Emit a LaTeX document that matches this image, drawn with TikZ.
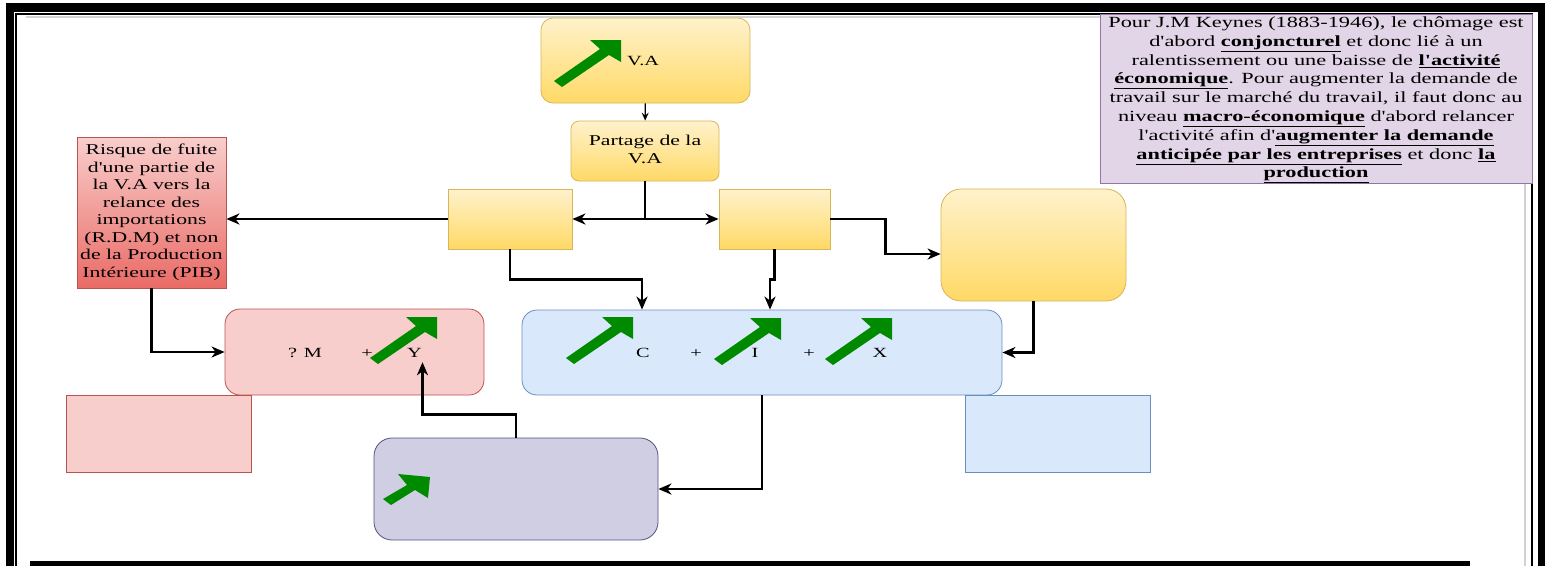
\documentclass[tikz,border=0pt]{standalone}
\usepackage{fontspec}
\setmainfont{Liberation Serif}
\usepackage{graphicx}
\usetikzlibrary{arrows.meta}

\definecolor{jauneH}{HTML}{FFF2CC}
\definecolor{jauneB}{HTML}{FFD966}
\definecolor{jauneT}{HTML}{D6B656}
\definecolor{roseF}{HTML}{F8CECC}
\definecolor{roseT}{HTML}{B85450}
\definecolor{rougeB}{HTML}{EA6B66}
\definecolor{bleuF}{HTML}{DAE8FC}
\definecolor{bleuT}{HTML}{6C8EBF}
\definecolor{violetF}{HTML}{D0CEE2}
\definecolor{violetT}{HTML}{56517E}
\definecolor{mauveF}{HTML}{E1D5E7}
\definecolor{mauveT}{HTML}{9673A6}
\definecolor{vert}{HTML}{008A00}

\newcommand{\etire}[1]{\scalebox{1.45}[1]{\begin{tabular}{@{}c@{}}#1\end{tabular}}}
\newcommand{\gras}[1]{\underline{\textbf{#1}}}
\newcommand{\apo}{\textquotesingle}

\begin{document}
\begin{tikzpicture}[x=1pt,y=-1pt,>={Stealth[length=13pt,width=11pt,inset=4pt]},
  boite/.style={draw,inner sep=0pt,line width=0.8pt},
  jaune/.style={boite,draw=jauneT,top color=jauneH,bottom color=jauneB},
  lien/.style={->,line width=2.6pt},
  mince/.style={-{Stealth[length=8pt,width=7pt,inset=3pt]},line width=1.2pt},
  texte/.style={inner sep=0pt,font=\fontsize{15}{17.5}\selectfont},
  petit/.style={inner sep=0pt,font=\fontsize{14}{16}\selectfont},
  hausse/.pic={\fill[vert] (0,0) -- (-31,0) -- (-21,9) -- (-67,41) -- (-59,47) -- (-12,15) -- (0,22) -- cycle;}]
  \useasboundingbox (0,0) rectangle (1545,566);

  % cadre
  \fill (6,3) rectangle (1545,12);
  \fill (6,3) rectangle (14,566);
  \fill (1538,3) rectangle (1545,566);
  \draw[gray!35,line width=2pt] (26,16.5) -- (1525,16.5) -- (1525,566);
  \draw[line width=1.5pt] (16,566) |- (1532,14) -- (1532,566);
  \fill (30,561) rectangle (1470,566);

  % boites
  \node[jaune,rounded corners=12pt,minimum width=209pt,minimum height=85pt] (va) at (645.5,60.5) {};
  \node[jaune,rounded corners=8pt,minimum width=148pt,minimum height=60pt,texte] (partage) at (645,151) {\etire{Partage de la\\V.A}};
  \node[jaune,minimum width=124pt,minimum height=60pt] (ga) at (510,219) {};
  \node[jaune,minimum width=111pt,minimum height=60pt] (dr) at (774.5,219) {};
  \node[jaune,rounded corners=20pt,minimum width=185pt,minimum height=112pt] (grand) at (1033.5,245) {};
  \node[boite,draw=roseT,top color=roseF,bottom color=rougeB,minimum width=149pt,minimum height=151pt,texte] (fuite) at (151.5,212.5)
    {\etire{Risque de fuite\\d\apo une partie de\\la V.A vers la\\relance des\\importations\\(R.D.M) et non\\de la Production\\Intérieure (PIB)}};
  \node[boite,draw=mauveT,fill=mauveF,minimum width=432pt,minimum height=166pt,inner sep=0pt,font=\fontsize{15.5}{18.8}\selectfont] (keynes) at (1316,99)
    {\scalebox{1.44}[1]{\begin{tabular}{@{}c@{}}Pour J.M Keynes (1883-1946), le chômage est\\
      d\apo abord \gras{conjoncturel} et donc lié à un\\
      ralentissement ou une baisse de \gras{l\apo activité}\\
      \gras{économique}. Pour augmenter la demande de\\
      travail sur le marché du travail, il faut donc au\\
      niveau \gras{macro-économique} d\apo abord relancer\\
      l\apo activité afin d\apo\gras{augmenter la demande}\\
      \gras{anticipée par les entreprises} et donc \gras{la}\\
      \gras{production}\end{tabular}}};
  \node[boite,draw=roseT,fill=roseF,rounded corners=15pt,minimum width=259pt,minimum height=86pt] (rose) at (354.5,352) {};
  \node[boite,draw=bleuT,fill=bleuF,rounded corners=15pt,minimum width=480pt,minimum height=85pt] (bleu) at (762,352.5) {};
  \node[boite,draw=violetT,fill=violetF,rounded corners=18pt,minimum width=284pt,minimum height=102pt] (violet) at (516,489) {};
  \node[boite,draw=roseT,fill=roseF,minimum width=185pt,minimum height=77pt] (rosebas) at (158.5,433.5) {};
  \node[boite,draw=bleuT,fill=bleuF,minimum width=185pt,minimum height=77pt] (bleubas) at (1057.5,433.5) {};

  % termes
  \node[petit,anchor=west] (va-t) at (627,62) {\etire{V.A}};
  \foreach \t/\x [count=\i] in {{? M}/305,+/367,Y/414.5}
    \node[petit] (r\i) at (\x,354) {\etire{\t}};
  \foreach \t/\x [count=\i] in {C/643,+/696,I/755,+/809,X/880}
    \node[petit] (b\i) at (\x,354) {\etire{\t}};

  % fleches vertes
  \pic at (621,40) {hausse};
  \pic at (437,317) {hausse};
  \pic at (633,317) {hausse};
  \pic at (781,318) {hausse};
  \pic at (892,318) {hausse};
  \fill[vert] (430,477) -- (398,474) -- (407,485) -- (383,499) -- (391,505) -- (415,490) -- (428,498) -- cycle;

  % liens
  \draw[mince] (va) -- (partage);
  \draw[lien] (partage.south) |- (ga.east);
  \draw[lien] (partage.south) |- (dr.west);
  \draw[lien] (ga.west) -- (ga.west -| fuite.east);
  \draw[lien] (ga.south) -- ++(0,30) -| ([xshift=-120pt]bleu.north);
  \draw[lien] (dr.south) -- ++(0,30) -| ([xshift=8pt]bleu.north);
  \draw[lien] (dr.east) -- ++(55,0) |- ([yshift=-9pt]grand.west);
  \draw[lien] (grand.south) |- (bleu.east);
  \draw[lien] (fuite.south) |- (rose.west);
  \draw[lien] (violet.north) -- ++(0,-23) -| ([xshift=8pt]r3.south);
  \draw[lien] (bleu.south) |- (violet.east);
\end{tikzpicture}
\end{document}
